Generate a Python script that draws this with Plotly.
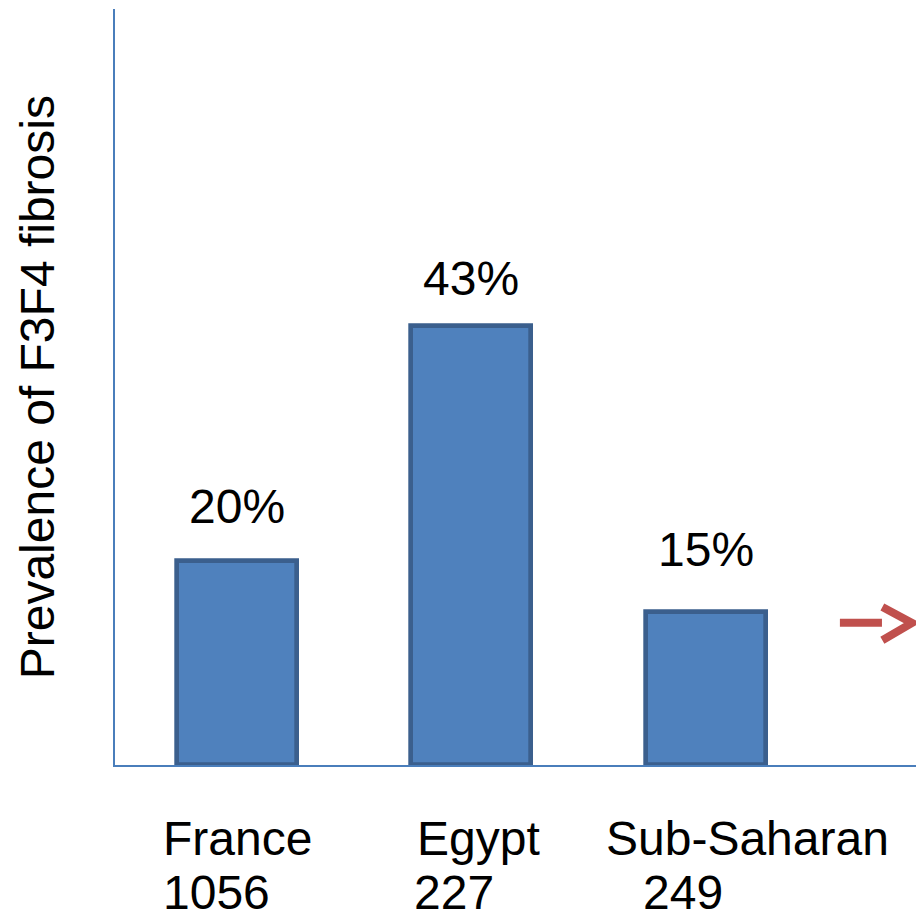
import plotly.graph_objects as go

# Prevalence of F3F4 fibrosis by region
regions = ["France", "Egypt", "Sub-Saharan"]
patients = ["1056", "227", "249"]
prevalence = [20, 43, 15]

FONT = "Liberation Sans, Arial, sans-serif"
FSIZE = 48
FILL = "#4F81BD"
EDGE = "#3B5F8D"
AXIS = "#4A7EBB"

fig = go.Figure()
fig.add_trace(go.Bar(
    x=regions,
    y=prevalence,
    width=0.512,
    marker=dict(color=FILL, line=dict(color=EDGE, width=4.7)),
    hoverinfo="skip",
))

# value labels above bars
label_lift = [26, 19, 34]
for r, v, lift in zip(regions, prevalence, label_lift):
    fig.add_annotation(
        x=r, y=v, xref="x", yref="y",
        text=f"{v}%", showarrow=False,
        xanchor="center", yanchor="bottom", yshift=lift,
        font=dict(family=FONT, size=FSIZE, color="black"),
    )

# category names and sample sizes below the axis
name_shift = [-76, -56, -102]
count_shift = [-76, -59, -65]
for r, n, s1, s2 in zip(regions, patients, name_shift, count_shift):
    fig.add_annotation(
        x=r, xref="x", y=-0.097, yref="paper",
        text=r, showarrow=False, xanchor="left", yanchor="middle", xshift=s1,
        font=dict(family=FONT, size=FSIZE, color="black"),
    )
    fig.add_annotation(
        x=r, xref="x", y=-0.168, yref="paper",
        text=n, showarrow=False, xanchor="left", yanchor="middle", xshift=s2,
        font=dict(family=FONT, size=FSIZE, color="black"),
    )

# y-axis title
fig.add_annotation(
    x=-0.097, xref="paper", y=0.5, yref="paper",
    text="Prevalence of F3F4 fibrosis", textangle=-90, showarrow=False,
    xanchor="center", yanchor="middle",
    font=dict(family=FONT, size=FSIZE, color="black"),
)

# red arrow on the right
ARROW = "#C0504D"
fig.add_shape(type="line", xref="paper", yref="paper",
              x0=0.905, x1=0.9575, y0=0.188, y1=0.188,
              line=dict(color=ARROW, width=8))
fig.add_shape(type="path", xref="paper", yref="paper",
              path="M 0.958 0.209 L 0.995 0.188 L 0.958 0.165",
              line=dict(color=ARROW, width=8))

fig.update_xaxes(
    range=[-0.52, 2.896], showticklabels=False, ticks="",
    showgrid=False, zeroline=False,
    showline=True, linecolor=AXIS, linewidth=1.5,
)
fig.update_yaxes(
    range=[0, 74], showticklabels=False, ticks="",
    showgrid=False, zeroline=False,
    showline=True, linecolor=AXIS, linewidth=2,
)
fig.update_layout(
    width=916, height=912,
    margin=dict(l=115, r=0, t=9, b=147),
    paper_bgcolor="white", plot_bgcolor="white",
    showlegend=False, bargap=0,
)

fig.write_html("out.html")
